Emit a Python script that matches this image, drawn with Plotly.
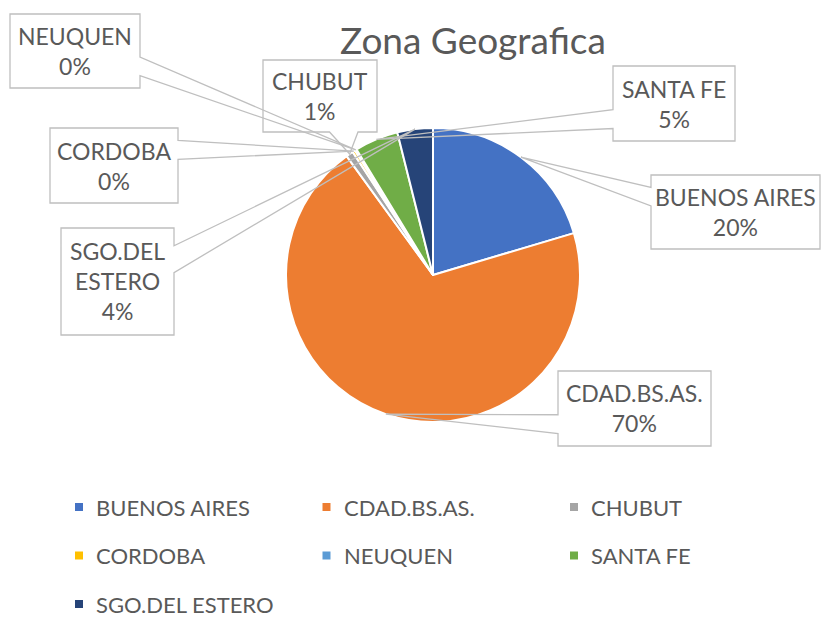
import math
import plotly.graph_objects as go

# ---------------- data ----------------
categories = ["BUENOS AIRES", "CDAD.BS.AS.", "CHUBUT", "CORDOBA",
              "NEUQUEN", "SANTA FE", "SGO.DEL ESTERO"]
values = [20.4, 69.6, 0.8, 0.3, 0.2, 4.8, 3.9]
colors = ["#4472C4", "#ED7D31", "#A5A5A5", "#FFC000",
          "#5B9BD5", "#70AD47", "#264478"]
chart_title = "Zona Geografica"
label_names = {"SGO.DEL ESTERO": "SGO.DEL<br>ESTERO"}

# ---------------- layout (pixels) ----------------
W, H = 821, 617
CX, CY, R = 433, 275, 147
# callout boxes: left, top, right, bottom
label_boxes = {
    "BUENOS AIRES": (651, 175, 820, 249),
    "CDAD.BS.AS.": (558, 371, 711, 446),
    "CHUBUT": (263, 60, 377, 132),
    "CORDOBA": (50, 128, 178, 203),
    "NEUQUEN": (10, 14, 140, 88),
    "SANTA FE": (613, 66, 735, 141),
    "SGO.DEL ESTERO": (61, 228, 174, 335),
}
TEXT = "#595959"
LINE = "#BFBFBF"
FONT = "Lato"
LABEL_SIZE = 23
LEGEND_SIZE = 22
TITLE_SIZE = 37


def px(x):
    return x / W


def py(y):
    return 1 - y / H


fig = go.Figure()
fig.add_trace(go.Pie(
    labels=categories, values=values, sort=False, direction="clockwise",
    rotation=0, textinfo="none", showlegend=False, hoverinfo="label+percent",
    marker=dict(colors=colors, line=dict(color="white", width=2)),
    domain=dict(x=[px(CX - R), px(CX + R)], y=[py(CY + R), py(CY - R)]),
))

shapes = []
annotations = []

total = sum(values)
cum = 0.0
for name, v in zip(categories, values):
    mid = (cum + v / 2) / total * 2 * math.pi
    cum += v
    ax = CX + R * math.sin(mid)
    ay = CY - R * math.cos(mid)
    l, t, r, b = label_boxes[name]
    bcx, bcy, w, h = (l + r) / 2, (t + b) / 2, r - l, b - t
    dx, dy = ax - bcx, ay - bcy
    pts = []
    if abs(dx) / (w / 2) >= abs(dy) / (h / 2):
        side = "right" if dx > 0 else "left"
        f1, f2 = (2 / 12, 5 / 12) if dy < 0 else (7 / 12, 10 / 12)
    else:
        side = "bottom" if dy > 0 else "top"
        f1, f2 = (2 / 12, 5 / 12) if dx < 0 else (7 / 12, 10 / 12)
    pts.append((l, t))
    if side == "top":
        pts += [(l + f1 * w, t), (ax, ay), (l + f2 * w, t)]
    pts.append((r, t))
    if side == "right":
        pts += [(r, t + f1 * h), (ax, ay), (r, t + f2 * h)]
    pts.append((r, b))
    if side == "bottom":
        pts += [(l + f2 * w, b), (ax, ay), (l + f1 * w, b)]
    pts.append((l, b))
    if side == "left":
        pts += [(l, t + f2 * h), (ax, ay), (l, t + f1 * h)]
    path = "M " + " L ".join(f"{px(x):.5f},{py(y):.5f}" for x, y in pts) + " Z"
    shapes.append(dict(type="path", path=path, xref="paper", yref="paper",
                       line=dict(color=LINE, width=1.3), layer="above"))
    pct = f"{round(v / total * 100)}%"
    annotations.append(dict(
        x=px(bcx), y=py(bcy), xref="paper", yref="paper",
        xanchor="center", yanchor="middle", showarrow=False,
        text=f"{label_names.get(name, name)}<br>{pct}", align="center",
        font=dict(family=FONT, size=LABEL_SIZE, color=TEXT)))

# title
annotations.append(dict(
    x=px(473), y=py(40), xref="paper", yref="paper", xanchor="center",
    yanchor="middle", showarrow=False, text=chart_title,
    font=dict(family=FONT, size=TITLE_SIZE, color=TEXT)))

# legend (3 columns)
LX0, LY0, LDX, LDY, MS = 75, 507, 247.5, 48.5, 8
for i, (name, c) in enumerate(zip(categories, colors)):
    mx = LX0 + (i % 3) * LDX
    my = LY0 + (i // 3) * LDY
    shapes.append(dict(type="rect", xref="paper", yref="paper",
                       x0=px(mx), x1=px(mx + MS), y0=py(my - MS / 2),
                       y1=py(my + MS / 2), fillcolor=c, line=dict(width=0)))
    annotations.append(dict(
        x=px(mx + 19), y=py(my), xref="paper", yref="paper", xanchor="left",
        yanchor="middle", showarrow=False, text=name,
        font=dict(family=FONT, size=LEGEND_SIZE, color=TEXT)))

fig.update_layout(
    width=W, height=H, margin=dict(l=0, r=0, t=0, b=0),
    paper_bgcolor="white", plot_bgcolor="white",
    shapes=shapes, annotations=annotations, showlegend=False,
    font=dict(family=FONT, color=TEXT),
)

fig.write_html("out.html", config={"displayModeBar": False},
               post_script="document.body.style.margin='0';document.body.style.overflow='hidden';")
